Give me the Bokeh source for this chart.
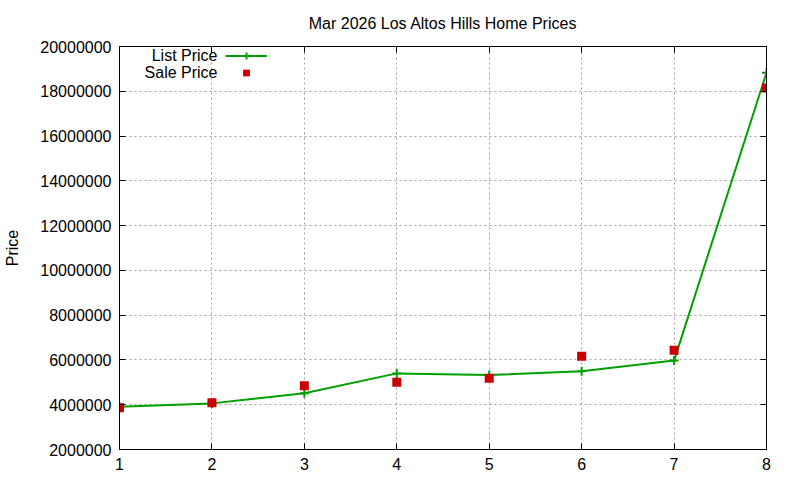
from bokeh.plotting import figure
from bokeh.models import (Range1d, LinearAxis, SingleIntervalTicker, BasicTickFormatter,
                          Legend, LegendItem, Label, CustomJSTickFormatter)
from bokeh.embed import file_html
from bokeh.resources import INLINE

title = "Mar 2026 Los Altos Hills Home Prices"
months = [1, 2, 3, 4, 5, 6, 7, 8]
list_price = [3910000, 4060000, 4510000, 5400000, 5330000, 5490000, 5970000, 18830000]
sale_price = [3870000, 4090000, 4850000, 5000000, 5180000, 6160000, 6430000, 18150000]
series_names = ["List Price", "Sale Price"]

FONT = "Liberation Sans"
FS = "16px"
GREEN = "#00a000"
RED = "#cc0000"

p = figure(width=784, height=472, output_backend="svg", toolbar_location=None,
           x_range=Range1d(1, 8), y_range=Range1d(2000000, 20000000),
           min_border_left=119, min_border_right=18, min_border_top=46, min_border_bottom=23,
           title=title)
p.title.align = "center"
p.title.text_font = FONT
p.title.text_font_size = FS
p.title.text_font_style = "normal"
p.title.text_color = "black"
p.title.standoff = 22

p.outline_line_color = "black"
p.background_fill_color = "white"
p.border_fill_color = "white"

xt = SingleIntervalTicker(interval=1)
yt = SingleIntervalTicker(interval=2000000)
p.xaxis.ticker = xt
p.yaxis.ticker = yt
p.yaxis.formatter = BasicTickFormatter(use_scientific=False)
p.yaxis.axis_label = "Price"
p.yaxis.axis_label_text_font = FONT
p.yaxis.axis_label_text_font_size = FS
p.yaxis.axis_label_text_font_style = "normal"
p.yaxis.axis_label_text_color = "black"
p.yaxis.axis_label_standoff = 16

for ax in [p.xaxis[0], p.yaxis[0]]:
    ax.major_label_text_font = FONT
    ax.major_label_text_font_size = FS
    ax.major_label_text_color = "black"
    ax.major_tick_in = 6
    ax.major_tick_out = 0
    ax.minor_tick_line_color = None
    ax.axis_line_color = "black"
    ax.major_tick_line_color = "black"
    ax.major_label_standoff = 4

empty = CustomJSTickFormatter(code="return ''")
for loc, tk in [("right", yt), ("above", xt)]:
    ax = LinearAxis(ticker=tk, formatter=empty)
    ax.major_tick_in = 6
    ax.major_tick_out = 0
    ax.minor_tick_line_color = None
    ax.major_label_standoff = 0
    ax.major_label_text_font_size = "1px"
    ax.axis_line_color = "black"
    p.add_layout(ax, loc)

p.grid.grid_line_color = "#a0a0a0"
p.grid.grid_line_dash = "2 3"
p.grid.grid_line_width = 1
p.xgrid.ticker = xt
p.ygrid.ticker = yt

lr = p.line(months, list_price, line_color=GREEN, line_width=2)
cr = p.scatter(months, list_price, marker="cross", size=9, line_color=GREEN, line_width=2)
sr = p.scatter(months, sale_price, marker="square", size=9, fill_color=RED, line_color=None)

leg = Legend(items=[LegendItem(label=" ", renderers=[lr, cr]),
                    LegendItem(label=" ", renderers=[sr])],
             location=(106, 368), orientation="vertical",
             glyph_width=42, glyph_height=17, label_height=17, label_width=0,
             label_standoff=0, spacing=0, padding=0, margin=0,
             border_line_color=None, background_fill_alpha=0,
             label_text_font_size="1px")
p.add_layout(leg)

for i, name in enumerate(series_names):
    p.add_layout(Label(x=98, y=394 - 17 * i, x_units="screen", y_units="screen",
                       text=name, text_align="right", text_baseline="middle",
                       text_font=FONT, text_font_size=FS, text_color="black"))

open("out.html", "w").write(file_html(p, INLINE))
